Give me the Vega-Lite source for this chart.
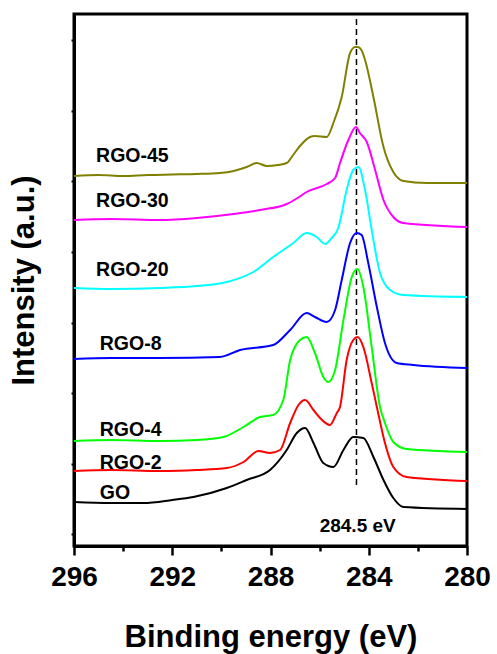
{
  "$schema": "https://vega.github.io/schema/vega-lite/v6.json",
  "width": 393,
  "height": 532,
  "autosize": "none",
  "padding": {"left": 74, "top": 14, "right": 30, "bottom": 108},
  "background": "white",
  "config": {
    "view": {"stroke": "black", "strokeWidth": 3},
    "font": "Liberation Sans",
    "axis": {"domainColor": "black", "domainWidth": 3, "tickColor": "black", "grid": false}
  },
  "datasets": {
    "spectra": [
      {"E": 296, "I": 370, "s": "RGO-45"}, {"E": 295, "I": 371, "s": "RGO-45"}, {"E": 294, "I": 370, "s": "RGO-45"}, {"E": 293, "I": 371, "s": "RGO-45"}, {"E": 292, "I": 371.5, "s": "RGO-45"}, {"E": 291, "I": 372, "s": "RGO-45"}, {"E": 290.06, "I": 373, "s": "RGO-45"}, {"E": 289.5, "I": 375, "s": "RGO-45"}, {"E": 288.97, "I": 379, "s": "RGO-45"}, {"E": 288.56, "I": 383, "s": "RGO-45"}, {"E": 288.15, "I": 380, "s": "RGO-45"}, {"E": 287.7, "I": 381, "s": "RGO-45"}, {"E": 287.34, "I": 383, "s": "RGO-45"}, {"E": 287.08, "I": 391, "s": "RGO-45"}, {"E": 286.8, "I": 400, "s": "RGO-45"}, {"E": 286.39, "I": 409, "s": "RGO-45"}, {"E": 286.19, "I": 410, "s": "RGO-45"}, {"E": 285.71, "I": 409, "s": "RGO-45"}, {"E": 285.44, "I": 423, "s": "RGO-45"}, {"E": 285.1, "I": 449, "s": "RGO-45"}, {"E": 284.76, "I": 493, "s": "RGO-45"}, {"E": 284.55, "I": 499, "s": "RGO-45"}, {"E": 284.45, "I": 499, "s": "RGO-45"}, {"E": 284.3, "I": 496, "s": "RGO-45"}, {"E": 284.15, "I": 486, "s": "RGO-45"}, {"E": 283.81, "I": 449, "s": "RGO-45"}, {"E": 283.4, "I": 399, "s": "RGO-45"}, {"E": 283.0, "I": 374, "s": "RGO-45"}, {"E": 282.59, "I": 365, "s": "RGO-45"}, {"E": 281.64, "I": 363, "s": "RGO-45"}, {"E": 280, "I": 363, "s": "RGO-45"},
      {"E": 296, "I": 326, "s": "RGO-30"}, {"E": 294.5, "I": 327, "s": "RGO-30"}, {"E": 292.5, "I": 326, "s": "RGO-30"}, {"E": 291, "I": 328, "s": "RGO-30"}, {"E": 289.51, "I": 332, "s": "RGO-30"}, {"E": 288.43, "I": 336, "s": "RGO-30"}, {"E": 287.34, "I": 342, "s": "RGO-30"}, {"E": 286.9, "I": 348, "s": "RGO-30"}, {"E": 286.53, "I": 354, "s": "RGO-30"}, {"E": 285.71, "I": 362, "s": "RGO-30"}, {"E": 285.37, "I": 368, "s": "RGO-30"}, {"E": 285.17, "I": 383, "s": "RGO-30"}, {"E": 284.83, "I": 406, "s": "RGO-30"}, {"E": 284.52, "I": 419, "s": "RGO-30"}, {"E": 284.36, "I": 413, "s": "RGO-30"}, {"E": 284.08, "I": 404, "s": "RGO-30"}, {"E": 283.74, "I": 376, "s": "RGO-30"}, {"E": 283.4, "I": 346, "s": "RGO-30"}, {"E": 283.0, "I": 329, "s": "RGO-30"}, {"E": 282.59, "I": 323, "s": "RGO-30"}, {"E": 280, "I": 319, "s": "RGO-30"},
      {"E": 296, "I": 258, "s": "RGO-20"}, {"E": 294.5, "I": 257, "s": "RGO-20"}, {"E": 292.5, "I": 258, "s": "RGO-20"}, {"E": 291, "I": 260, "s": "RGO-20"}, {"E": 289.78, "I": 264, "s": "RGO-20"}, {"E": 288.7, "I": 274, "s": "RGO-20"}, {"E": 287.89, "I": 289, "s": "RGO-20"}, {"E": 287.07, "I": 303, "s": "RGO-20"}, {"E": 286.53, "I": 313, "s": "RGO-20"}, {"E": 286.12, "I": 309, "s": "RGO-20"}, {"E": 285.78, "I": 302, "s": "RGO-20"}, {"E": 285.51, "I": 308, "s": "RGO-20"}, {"E": 285.24, "I": 318, "s": "RGO-20"}, {"E": 284.9, "I": 356, "s": "RGO-20"}, {"E": 284.63, "I": 376, "s": "RGO-20"}, {"E": 284.42, "I": 379, "s": "RGO-20"}, {"E": 284.15, "I": 356, "s": "RGO-20"}, {"E": 283.88, "I": 316, "s": "RGO-20"}, {"E": 283.81, "I": 306, "s": "RGO-20"}, {"E": 283.54, "I": 273, "s": "RGO-20"}, {"E": 283.13, "I": 256, "s": "RGO-20"}, {"E": 282.59, "I": 251, "s": "RGO-20"}, {"E": 280, "I": 249, "s": "RGO-20"},
      {"E": 296, "I": 187, "s": "RGO-8"}, {"E": 294.5, "I": 188, "s": "RGO-8"}, {"E": 292.5, "I": 188, "s": "RGO-8"}, {"E": 290.06, "I": 189, "s": "RGO-8"}, {"E": 289.24, "I": 196, "s": "RGO-8"}, {"E": 287.89, "I": 201, "s": "RGO-8"}, {"E": 287.2, "I": 216, "s": "RGO-8"}, {"E": 286.53, "I": 233, "s": "RGO-8"}, {"E": 286.19, "I": 229, "s": "RGO-8"}, {"E": 285.71, "I": 224, "s": "RGO-8"}, {"E": 285.37, "I": 236, "s": "RGO-8"}, {"E": 285.1, "I": 266, "s": "RGO-8"}, {"E": 284.76, "I": 303, "s": "RGO-8"}, {"E": 284.49, "I": 313, "s": "RGO-8"}, {"E": 284.29, "I": 311, "s": "RGO-8"}, {"E": 284.02, "I": 283, "s": "RGO-8"}, {"E": 283.67, "I": 239, "s": "RGO-8"}, {"E": 283.34, "I": 203, "s": "RGO-8"}, {"E": 282.86, "I": 183, "s": "RGO-8"}, {"E": 282.18, "I": 181, "s": "RGO-8"}, {"E": 280, "I": 178, "s": "RGO-8"},
      {"E": 296, "I": 105, "s": "RGO-4"}, {"E": 294.5, "I": 106, "s": "RGO-4"}, {"E": 292.5, "I": 105, "s": "RGO-4"}, {"E": 291, "I": 106, "s": "RGO-4"}, {"E": 289.92, "I": 109, "s": "RGO-4"}, {"E": 289.1, "I": 119, "s": "RGO-4"}, {"E": 288.43, "I": 129, "s": "RGO-4"}, {"E": 287.89, "I": 131, "s": "RGO-4"}, {"E": 287.48, "I": 146, "s": "RGO-4"}, {"E": 287.2, "I": 186, "s": "RGO-4"}, {"E": 286.8, "I": 206, "s": "RGO-4"}, {"E": 286.53, "I": 209, "s": "RGO-4"}, {"E": 286.19, "I": 193, "s": "RGO-4"}, {"E": 285.85, "I": 169, "s": "RGO-4"}, {"E": 285.65, "I": 164, "s": "RGO-4"}, {"E": 285.37, "I": 176, "s": "RGO-4"}, {"E": 285.03, "I": 226, "s": "RGO-4"}, {"E": 284.69, "I": 269, "s": "RGO-4"}, {"E": 284.46, "I": 277, "s": "RGO-4"}, {"E": 284.22, "I": 259, "s": "RGO-4"}, {"E": 283.88, "I": 199, "s": "RGO-4"}, {"E": 283.54, "I": 139, "s": "RGO-4"}, {"E": 283.34, "I": 123, "s": "RGO-4"}, {"E": 283.0, "I": 104, "s": "RGO-4"}, {"E": 282.46, "I": 97, "s": "RGO-4"}, {"E": 280, "I": 94, "s": "RGO-4"},
      {"E": 296, "I": 75, "s": "RGO-2"}, {"E": 294.5, "I": 76, "s": "RGO-2"}, {"E": 292.5, "I": 75, "s": "RGO-2"}, {"E": 291, "I": 76, "s": "RGO-2"}, {"E": 289.78, "I": 78, "s": "RGO-2"}, {"E": 289.1, "I": 84, "s": "RGO-2"}, {"E": 288.49, "I": 95, "s": "RGO-2"}, {"E": 288.02, "I": 93, "s": "RGO-2"}, {"E": 287.61, "I": 96, "s": "RGO-2"}, {"E": 287.2, "I": 123, "s": "RGO-2"}, {"E": 286.86, "I": 141, "s": "RGO-2"}, {"E": 286.59, "I": 146, "s": "RGO-2"}, {"E": 286.25, "I": 136, "s": "RGO-2"}, {"E": 285.98, "I": 128, "s": "RGO-2"}, {"E": 285.58, "I": 121, "s": "RGO-2"}, {"E": 285.3, "I": 133, "s": "RGO-2"}, {"E": 285.17, "I": 139, "s": "RGO-2"}, {"E": 284.9, "I": 186, "s": "RGO-2"}, {"E": 284.63, "I": 206, "s": "RGO-2"}, {"E": 284.45, "I": 209, "s": "RGO-2"}, {"E": 284.22, "I": 199, "s": "RGO-2"}, {"E": 283.88, "I": 163, "s": "RGO-2"}, {"E": 283.67, "I": 139, "s": "RGO-2"}, {"E": 283.34, "I": 103, "s": "RGO-2"}, {"E": 283.0, "I": 79, "s": "RGO-2"}, {"E": 282.46, "I": 69, "s": "RGO-2"}, {"E": 280, "I": 65, "s": "RGO-2"},
      {"E": 296, "I": 44, "s": "GO"}, {"E": 294.5, "I": 43, "s": "GO"}, {"E": 293.18, "I": 43, "s": "GO"}, {"E": 292, "I": 46, "s": "GO"}, {"E": 291.14, "I": 49, "s": "GO"}, {"E": 289.78, "I": 58, "s": "GO"}, {"E": 288.97, "I": 66, "s": "GO"}, {"E": 288.02, "I": 76, "s": "GO"}, {"E": 287.34, "I": 96, "s": "GO"}, {"E": 286.93, "I": 113, "s": "GO"}, {"E": 286.59, "I": 118, "s": "GO"}, {"E": 286.25, "I": 103, "s": "GO"}, {"E": 285.85, "I": 83, "s": "GO"}, {"E": 285.44, "I": 79, "s": "GO"}, {"E": 285.03, "I": 96, "s": "GO"}, {"E": 284.63, "I": 109, "s": "GO"}, {"E": 284.22, "I": 108, "s": "GO"}, {"E": 283.81, "I": 89, "s": "GO"}, {"E": 283.4, "I": 66, "s": "GO"}, {"E": 283.0, "I": 48, "s": "GO"}, {"E": 282.59, "I": 39, "s": "GO"}, {"E": 280, "I": 37, "s": "GO"}
    ],
    "labels": [
      {"E": 295.1, "I": 390, "label": "RGO-45"},
      {"E": 295.1, "I": 345, "label": "RGO-30"},
      {"E": 295.1, "I": 276, "label": "RGO-20"},
      {"E": 294.95, "I": 202, "label": "RGO-8"},
      {"E": 294.95, "I": 116, "label": "RGO-4"},
      {"E": 294.95, "I": 83, "label": "RGO-2"},
      {"E": 294.95, "I": 53, "label": "GO"}
    ],
    "marker": [{"E": 284.5, "I": 61, "I2": 528, "label": "284.5 eV", "tE": 284.45, "tI": 20}]
  },
  "layer": [
    {
      "data": {"name": "marker"},
      "mark": {"type": "rule", "color": "black", "strokeWidth": 1.5, "strokeDash": [6, 4]},
      "encoding": {
        "x": {"field": "E", "type": "quantitative", "scale": {"domain": [280, 296], "reverse": true}},
        "y": {"field": "I", "type": "quantitative"},
        "y2": {"field": "I2"}
      }
    },
    {
      "data": {"name": "spectra"},
      "mark": {"type": "line", "strokeWidth": 2, "interpolate": "monotone"},
      "encoding": {
        "x": {
          "field": "E", "type": "quantitative",
          "scale": {"domain": [280, 296], "reverse": true, "nice": false},
          "axis": {
            "title": "Binding energy (eV)",
            "values": [280, 282, 284, 286, 288, 290, 292, 294, 296],
            "labelExpr": "datum.value % 4 === 0 ? datum.label : ''",
            "tickSize": {"expr": "datum.value % 4 === 0 ? 9 : 5"},
            "tickWidth": 2.5,
            "labelFontSize": 28,
            "labelFontWeight": "bold",
            "labelColor": "black",
            "labelPadding": 8,
            "labelFlush": false,
            "titleFontSize": 31,
            "titleFontWeight": "bold",
            "titleColor": "black",
            "titlePadding": 31
          }
        },
        "y": {
          "field": "I", "type": "quantitative",
          "scale": {"domain": [0, 532], "nice": false, "zero": false},
          "axis": {
            "title": "Intensity (a.u.)",
            "labels": false,
            "values": [11.6, 46.9, 82.2, 117.5, 152.8, 188.1, 223.4, 258.7, 294, 329.3, 364.6, 399.9, 435.2, 470.5, 505.8],
            "tickSize": 3,
            "tickWidth": 2,
            "titleFontSize": 31,
            "titleFontWeight": "bold",
            "titleColor": "black",
            "titlePadding": 30
          }
        },
        "color": {
          "field": "s", "type": "nominal",
          "scale": {
            "domain": ["RGO-45", "RGO-30", "RGO-20", "RGO-8", "RGO-4", "RGO-2", "GO"],
            "range": ["#808000", "#ff00ff", "#00ffff", "#0000ff", "#00ff00", "#ff0000", "#000000"]
          },
          "legend": null
        }
      }
    },
    {
      "data": {"name": "labels"},
      "mark": {"type": "text", "align": "left", "baseline": "middle", "fontSize": 19.5, "fontWeight": "bold", "color": "black"},
      "encoding": {
        "x": {"field": "E", "type": "quantitative"},
        "y": {"field": "I", "type": "quantitative"},
        "text": {"field": "label"}
      }
    },
    {
      "data": {"name": "marker"},
      "mark": {"type": "text", "align": "center", "baseline": "middle", "fontSize": 19, "fontWeight": "bold", "color": "black"},
      "encoding": {
        "x": {"field": "tE", "type": "quantitative"},
        "y": {"field": "tI", "type": "quantitative"},
        "text": {"field": "label"}
      }
    }
  ]
}
